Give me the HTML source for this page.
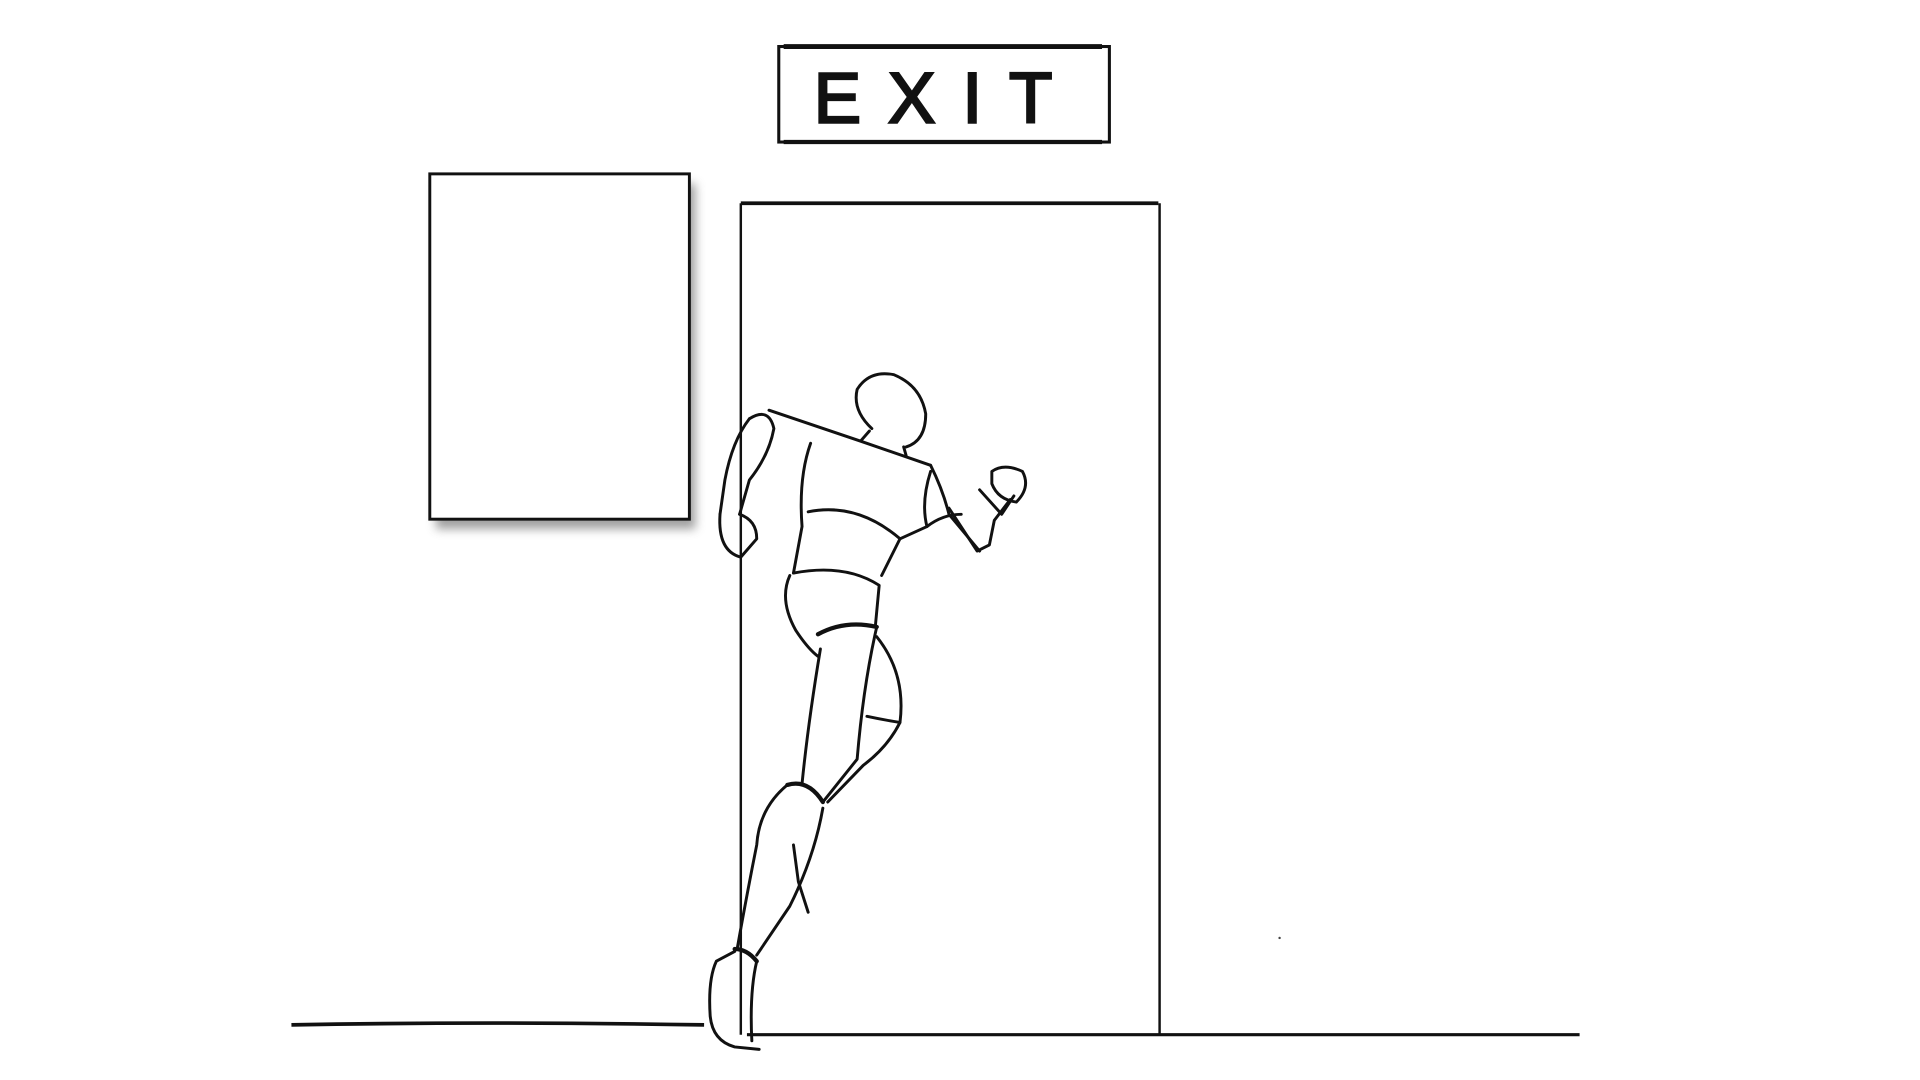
<!DOCTYPE html>
<html><head><meta charset="utf-8"><style>
html,body{margin:0;padding:0;background:#fff;}
svg{display:block;}
</style></head><body>
<svg width="1920" height="1080" viewBox="0 0 1568 882" preserveAspectRatio="none" xmlns="http://www.w3.org/2000/svg">
<defs>
<filter id="sh" x="-20%" y="-20%" width="150%" height="150%"><feGaussianBlur stdDeviation="4"/></filter>
</defs>
<rect x="0" y="0" width="1568" height="882" fill="#fff"/>
<g>
<rect x="636" y="38" width="270" height="78" fill="none" stroke="#111" stroke-width="2.5"/>
<line x1="640" y1="38" x2="900" y2="38" stroke="#111" stroke-width="4"/>
<line x1="640" y1="116" x2="900" y2="116" stroke="#111" stroke-width="3.5"/>
<text x="773" y="100" text-anchor="middle" font-family="Liberation Sans, sans-serif" font-size="58" letter-spacing="22" fill="#111" stroke="#111" stroke-width="2">EXIT</text>
</g>
<g>
<rect x="356" y="150" width="212" height="282" fill="#888" filter="url(#sh)" opacity="0.8"/>
<rect x="351" y="142" width="212" height="282" fill="#fff" stroke="#111" stroke-width="2.4"/>
</g>
<g stroke="#111" fill="none">
<line x1="605" y1="166" x2="946" y2="166" stroke-width="3"/>
<line x1="605" y1="166" x2="605" y2="845" stroke-width="2"/>
<line x1="947" y1="166" x2="947" y2="845" stroke-width="2"/>
</g>
<g stroke="#111" fill="none">
<path d="M238 837 Q400 834 575 837" stroke-width="3"/>
<path d="M610 845 L1290 845" stroke-width="2.5"/>
</g>
<g stroke="#111" fill="none" stroke-width="2.4" stroke-linecap="round" stroke-linejoin="round">
<path d="M712 350 Q696 335 700 318 Q710 302 730 306 Q752 315 756 338 Q756 360 740 365"/>
<path d="M710 352 L703 360"/><path d="M738 365 L740 372"/>
<path d="M628 335 L702 360 L760 380"/>
<path d="M612 342 Q628 332 632 350 Q628 372 612 392 L604 420"/>
<path d="M612 342 Q598 360 592 392 L588 420"/>
<path d="M588 420 Q586 450 605 455 L618 440 Q618 425 604 420"/>
<path d="M662 362 Q652 390 655 430 L648 468"/>
<path d="M760 380 Q770 400 775 420 L800 450"/>
<path d="M760 385 Q752 410 757 430 L735 440 L720 470"/>
<path d="M660 418 Q700 410 735 440"/>
<path d="M757 430 Q770 420 785 420"/>
<path d="M775 415 L798 450 L808 445 L812 425 L825 408"/>
<path d="M800 400 L818 420 L828 405"/>
<path d="M810 385 Q820 378 835 385 Q842 398 830 410 Q815 408 810 395 Z"/>
<path d="M648 468 Q690 460 718 478 L715 510"/>
<path d="M645 470 Q636 490 650 515 Q660 530 668 536"/>
<path d="M668 518 Q690 506 716 512" stroke-width="3.5"/>
<path d="M670 530 Q660 590 655 640"/>
<path d="M716 512 Q705 560 700 620 L672 655"/>
<path d="M716 520 Q740 550 735 590 Q725 610 705 625 L676 655"/>
<path d="M708 585 Q722 588 735 590"/>
<path d="M643 641 Q660 636 672 655" stroke-width="3.5"/>
<path d="M643 641 Q620 660 618 690 Q610 730 602 775"/>
<path d="M672 660 Q665 700 645 740 L618 780"/>
<path d="M648 690 L652 720 L660 745"/>
<path d="M600 775 Q610 775 618 785" stroke-width="3.5"/>
<path d="M600 777 L585 785 Q578 800 580 830 Q582 850 600 855 L620 857"/>
<path d="M618 785 Q612 810 614 850"/>
</g>
<circle cx="1045" cy="766" r="1" fill="#444"/>
</svg>
</body></html>
